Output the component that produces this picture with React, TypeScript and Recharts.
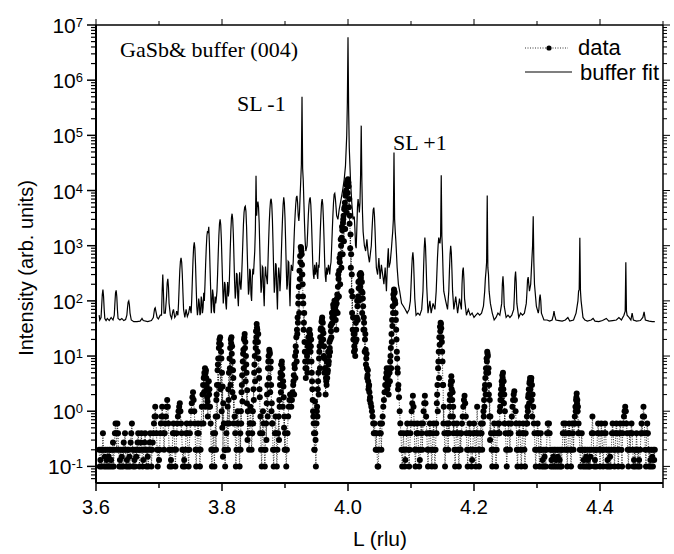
import React from 'react';
import { LineChart, Line, XAxis, YAxis } from 'recharts';

// measured XRD scan, one value per 0.001 rlu channel, split in 0.1 rlu blocks
const data360 = [
  0.2, 0.1, 0.13, 0.2, 0.1, 0.2, 0.4, 0.2, 0.1, 0.15,
  0.2, 0.1, 0.13, 0.2, 0.1, 0.15, 0.2, 0.1, 0.2, 0.13,
  0.1, 0.2, 0.27, 0.1, 0.2, 0.4, 0.6, 0.4, 0.2, 0.6,
  0.4, 0.2, 0.1, 0.13, 0.2, 0.1, 0.15, 0.2, 0.1, 0.27,
  0.2, 0.4, 0.2, 0.1, 0.13, 0.2, 0.1, 0.2, 0.15, 0.1,
  0.27, 0.4, 0.6, 0.2, 0.1, 0.2, 0.13, 0.1, 0.2, 0.15,
  0.2, 0.27, 0.4, 0.2, 0.1, 0.2, 0.27, 0.4, 0.2, 0.1,
  0.13, 0.2, 0.27, 0.4, 0.2, 0.1, 0.2, 0.15, 0.1, 0.2,
  0.27, 0.4, 0.2, 0.1, 0.2, 0.27, 0.4, 0.6, 0.8, 1.2,
  0.8, 0.4, 0.2, 0.1, 0.2,
];
const data370 = [
  0.13, 0.2, 0.4, 0.6, 0.8, 1.2, 0.8, 0.4, 0.2, 0.4,
  0.6, 0.8, 1.2, 1.6, 1.2, 0.6, 0.2, 0.1, 0.2, 0.13,
  0.1, 0.2, 0.4, 0.6, 0.4, 0.2, 0.1, 0.2, 0.4, 0.6,
  0.8, 1.0, 1.2, 1.4, 1.0, 0.6, 0.4, 0.2, 0.1, 0.2,
  0.13, 0.1, 0.2, 0.4, 0.6, 0.4, 0.2, 0.1, 0.2, 0.4,
  0.6, 1.0, 1.4, 1.8, 2.2, 1.6, 1.0, 0.6, 0.2, 0.1,
  0.2, 0.4, 0.6, 0.4, 0.2, 0.1, 0.2, 0.6, 1.2, 2.0,
  3.0, 4.0, 5.0, 6.0, 5.0, 4.0, 2.5, 1.5, 2.5, 3.5,
  2.5, 1.2, 0.6, 0.2, 0.1, 0.2, 0.4, 0.2, 0.1, 0.4,
  0.8, 1.6, 3.0, 5.5, 9.0, 14, 20, 22, 16, 9.0,
];
const data380 = [
  5.0, 2.8, 1.4, 0.6, 0.2, 0.1, 0.2, 0.4, 0.6, 1.2,
  2.5, 5.0, 9.0, 14, 20, 22, 15, 8.0, 4.0, 1.8,
  0.8, 0.4, 0.1, 0.2, 0.6, 1.0, 0.6, 0.2, 0.1, 0.4,
  1.0, 2.2, 4.5, 8.0, 13, 20, 25, 18, 10, 5.0,
  2.4, 1.0, 0.4, 0.2, 0.6, 1.2, 0.6, 0.2, 0.4, 1.0,
  2.5, 5.0, 10, 18, 28, 38, 30, 18, 9.0, 4.0,
  1.8, 0.8, 0.2, 0.1, 0.4, 1.0, 0.6, 0.2, 0.1, 0.2,
  0.6, 1.4, 3.0, 6.0, 10, 13, 11, 6.0, 3.0, 1.4,
  0.6, 0.2, 0.1, 0.2, 0.4, 0.8, 0.4, 0.1, 0.2, 0.4,
  0.8, 1.6, 3.0, 5.0, 7.0, 8.0, 6.0, 3.5, 1.8, 0.8,
];
const data390 = [
  0.4, 0.2, 0.1, 0.2, 0.4, 0.8, 1.2, 1.6, 2.0, 1.6,
  1.2, 1.6, 2.2, 3.0, 4.5, 7.0, 10, 15, 22, 30,
  50, 90, 180, 350, 650, 950, 800, 450, 200, 90,
  40, 18, 8.0, 4.0, 6.0, 10, 15, 22, 28, 30,
  24, 15, 8.0, 3.5, 1.6, 0.8, 0.4, 0.2, 0.4, 0.1,
  0.6, 1.2, 2.5, 5.0, 9.0, 15, 22, 32, 42, 50,
  40, 26, 15, 9.0, 6.0, 4.0, 3.0, 4.0, 5.5, 7.0,
  10, 14, 20, 28, 38, 50, 62, 75, 85, 90,
  80, 65, 90, 130, 180, 250, 350, 500, 700, 1000,
  1400, 1900, 2600, 3500, 4600, 6000, 8000, 10000, 12500, 15000,
];
const data400 = [
  16000, 12000, 7000, 3500, 1600, 700, 300, 120, 50, 25,
  15, 13, 18, 30, 50, 80, 120, 170, 230, 290,
  320, 300, 220, 140, 80, 50, 30, 20, 13, 9.0,
  6.0, 4.5, 3.5, 2.8, 2.2, 1.8, 1.4, 1.2, 1.0, 0.8,
  0.6, 0.4, 0.6, 0.4, 0.2, 0.4, 0.2, 0.1, 0.1, 0.2,
  0.4, 0.6, 0.4, 0.2, 0.6, 0.8, 1.2, 1.6, 2.2, 3.0,
  4.0, 5.0, 4.5, 3.5, 3.0, 3.5, 5.0, 8.0, 14, 25,
  45, 80, 130, 160, 140, 90, 45, 20, 9.0, 5.0,
  3.0, 1.8, 1.0, 0.6, 0.4, 0.2, 0.1, 0.2, 0.4, 0.2,
  0.1, 0.13, 0.2, 0.4, 0.6, 0.4, 0.2, 0.1, 0.2, 0.4,
];
const data410 = [
  0.6, 1.0, 1.4, 1.9, 1.2, 0.6, 0.2, 0.1, 0.2, 0.4,
  0.6, 0.4, 0.2, 0.1, 0.13, 0.2, 0.6, 0.4, 0.2, 0.6,
  1.0, 1.4, 1.9, 1.4, 0.8, 0.4, 0.2, 0.1, 0.2, 0.4,
  0.6, 0.4, 0.2, 0.1, 0.2, 0.4, 0.6, 0.2, 0.1, 0.2,
  0.6, 1.4, 3.0, 6.0, 12, 22, 34, 40, 32, 18,
  8.0, 3.0, 1.2, 0.4, 0.1, 0.2, 0.4, 0.6, 0.4, 0.2,
  0.6, 1.2, 2.0, 3.0, 4.3, 3.5, 2.2, 1.2, 0.6, 0.2,
  0.1, 0.2, 0.4, 0.6, 0.4, 0.2, 0.1, 0.2, 0.4, 0.2,
  0.4, 0.6, 0.8, 1.2, 1.6, 1.9, 1.4, 0.8, 0.4, 0.2,
  0.1, 0.2, 0.4, 0.6, 0.4, 0.2, 0.1, 0.13, 0.2, 0.4,
];
const data420 = [
  0.6, 0.4, 0.2, 0.1, 0.4, 1.2, 0.4, 0.2, 0.1, 0.2,
  0.4, 0.6, 0.4, 0.2, 0.6, 1.0, 1.6, 2.5, 4.0, 6.0,
  9.0, 12, 10, 6.0, 3.0, 1.6, 0.8, 0.4, 0.2, 0.1,
  0.2, 0.4, 0.6, 0.4, 0.2, 0.1, 0.2, 0.4, 0.6, 0.4,
  0.6, 1.0, 1.6, 2.5, 3.5, 4.5, 5.0, 3.5, 2.0, 1.0,
  0.4, 0.2, 0.1, 0.2, 0.4, 0.6, 0.4, 0.2, 0.4, 0.6,
  0.8, 1.2, 1.6, 2.0, 2.3, 1.6, 1.0, 0.6, 0.2, 0.1,
  0.2, 0.4, 0.6, 0.4, 0.2, 0.1, 0.2, 0.4, 0.6, 0.4,
  0.2, 0.1, 0.4, 0.6, 0.8, 1.2, 1.8, 2.5, 3.2, 4.0,
  3.5, 4.0, 3.0, 2.0, 1.2, 0.6, 0.4, 0.2, 0.1, 0.2,
];
const data430 = [
  0.4, 0.6, 0.4, 0.2, 0.1, 0.2, 0.4, 0.2, 0.1, 0.13,
  0.2, 0.1, 0.15, 0.2, 0.1, 0.2, 0.4, 0.6, 0.4, 0.6,
  0.4, 0.2, 0.1, 0.13, 0.2, 0.1, 0.15, 0.2, 0.1, 0.2,
  0.13, 0.1, 0.2, 0.15, 0.1, 0.2, 0.13, 0.1, 0.2, 0.1,
  0.2, 0.4, 0.6, 0.4, 0.2, 0.6, 0.4, 0.2, 0.1, 0.2,
  0.4, 0.6, 0.4, 0.2, 0.1, 0.2, 0.6, 0.4, 0.2, 0.6,
  0.8, 1.2, 1.6, 2.1, 1.6, 1.2, 0.6, 0.4, 0.2, 0.1,
  0.2, 0.4, 0.2, 0.1, 0.13, 0.2, 0.1, 0.2, 0.15, 0.1,
  0.2, 0.13, 0.1, 0.2, 0.1, 0.15, 0.2, 0.4, 0.8, 0.4,
  0.2, 0.1, 0.13, 0.2, 0.1, 0.2, 0.4, 0.6, 0.4, 0.2,
];
const data440 = [
  0.1, 0.2, 0.6, 0.4, 0.2, 0.1, 0.2, 0.4, 0.6, 0.4,
  0.2, 0.1, 0.13, 0.2, 0.1, 0.2, 0.15, 0.1, 0.2, 0.4,
  0.6, 0.4, 0.2, 0.1, 0.2, 0.4, 0.6, 0.4, 0.2, 0.1,
  0.2, 0.4, 0.6, 0.4, 0.2, 0.1, 0.4, 0.6, 0.8, 1.0,
  1.2, 1.0, 0.6, 0.4, 0.2, 0.1, 0.2, 0.4, 0.2, 0.4,
  0.6, 0.4, 0.2, 0.1, 0.13, 0.2, 0.1, 0.2, 0.4, 0.2,
  0.1, 0.2, 0.13, 0.1, 0.2, 0.4, 0.6, 0.4, 0.8, 1.2,
  0.8, 0.4, 0.2, 0.1, 0.4, 0.6, 0.4, 0.2, 0.1, 0.2,
  0.13, 0.1, 0.2, 0.15, 0.1, 0.2, 0.13, 0.2,
];

// extra channels on the half step inside the fringes (dense dot columns)
const fringe377 = [0.6, 2.2, 4.5, 1.2, 5.5, 3.0, 1.8, 0.8, 1.2, 2.0];
const fringe379 = [0.2, 2.0, 0.8, 7.0, 3.0, 17, 9.0, 2.5, 12, 1.0, 0.5, 0.15];
const fringe381 = [0.2, 1.6, 0.6, 6.0, 3.0, 17, 11, 2.2, 5.5, 0.6];
const fringe383 = [0.2, 0.6, 3.0, 1.5, 11, 6.0, 22, 14, 3.5, 7.0, 1.4, 0.3];
const fringe385 = [0.6, 1.6, 7.0, 3.5, 14, 22, 33, 12, 25, 5.5, 2.5, 0.4];
const fringe387 = [0.3, 2.0, 0.8, 8.0, 4.0, 12, 2.2, 8.0, 1.0, 0.6];
const fringe389 = [0.3, 1.2, 4.0, 2.2, 7.0, 4.5, 1.2, 2.8, 0.5, 0.2];
const fringeSLm = [
  3.5, 2.0, 6.0, 4.0, 12, 8.0, 25, 40, 120, 60,
  250, 500, 900, 700, 300, 120, 30, 60, 12, 6.0,
];
const fringe394 = [5.0, 12, 8.0, 18, 25, 12, 20, 5.0, 2.5, 1.0, 0.6, 0.2, 1.5, 0.3];
const fringe396 = [1.0, 0.8, 3.5, 2.0, 12, 6.0, 30, 18, 45, 30, 20, 10, 5.0, 6.0, 2.0, 3.5, 8.0, 5.0, 12];
const fringeCore = [
  8.0, 18, 12, 35, 22, 60, 40, 85, 55, 100,
  70, 45, 30, 110, 60, 300, 120, 600, 200, 1300,
  400, 2200, 700, 3000, 1200, 5000, 2000, 9000, 4000, 14000,
  9000, 14000, 5000, 2500, 900, 400, 150, 60, 30, 20,
  12, 25, 10, 40, 20, 100, 45, 220, 100, 300,
  180, 260, 150, 60, 110, 30, 40, 12, 25, 7.0,
  11, 4.0, 5.5, 2.5, 3.0, 1.6,
];
const fringeSLp = [3.0, 6.0, 2.5, 4.5, 2.0, 6.0, 3.5, 10, 6.0, 18, 35, 60, 110, 150, 100, 60, 30, 12, 6.0, 2.5];
const fringe414 = [0.4, 2.0, 1.0, 8.0, 4.0, 16, 28, 38, 22, 12, 3.0, 0.6];
const fringe416 = [0.4, 1.6, 0.8, 3.5, 2.5, 1.6, 0.8, 0.4];
const fringe422 = [0.8, 1.2, 3.0, 2.0, 5.0, 8.0, 11, 5.0, 2.0, 0.8, 0.3];
const fringe424 = [0.4, 1.2, 2.0, 1.6, 3.0, 4.0, 2.5, 1.4, 0.6];
const fringe429 = [0.6, 1.0, 2.0, 1.4, 3.5, 2.5, 3.6, 1.6, 0.8];
const fringe436 = [0.6, 1.0, 1.8, 1.4, 1.0, 0.4];

// [start L, values] – every block steps 0.001 rlu
const blocks: [number, number[]][] = [
  [3.605, data360], [3.7, data370], [3.8, data380], [3.9, data390], [4.0, data400],
  [4.1, data410], [4.2, data420], [4.3, data430], [4.4, data440],
  [3.7705, fringe377], [3.7905, fringe379], [3.8095, fringe381], [3.8295, fringe383],
  [3.8495, fringe385], [3.8705, fringe387], [3.8905, fringe389], [3.9135, fringeSLm],
  [3.9355, fringe394], [3.9505, fringe396], [3.9695, fringeCore], [4.0605, fringeSLp],
  [4.1405, fringe414], [4.1605, fringe416], [4.2155, fringe422], [4.2405, fringe424],
  [4.2845, fringe429], [4.3605, fringe436],
];
const STEP = 0.001;

// buffer fit curve, [L, intensity] vertices
const fitLow: [number, number][] = [
  [3.605, 55], [3.606, 45], [3.608, 50], [3.609, 80], [3.61, 130], [3.611, 160], [3.612, 120],
  [3.613, 70], [3.614, 48], [3.616, 44], [3.618, 48], [3.621, 44], [3.624, 50], [3.627, 45],
  [3.629, 55], [3.63, 90], [3.631, 140], [3.632, 155], [3.633, 120], [3.634, 70], [3.635, 48],
  [3.638, 45], [3.641, 48], [3.644, 44], [3.647, 46], [3.649, 55], [3.65, 75], [3.651, 95],
  [3.652, 100], [3.653, 85], [3.654, 60], [3.656, 45], [3.66, 42], [3.665, 42], [3.67, 43],
  [3.672, 46], [3.673, 48], [3.675, 44], [3.682, 42], [3.688, 44], [3.691, 50], [3.692, 60],
  [3.693, 72], [3.694, 75], [3.695, 65], [3.697, 50], [3.699, 47], [3.702, 55], [3.704, 55],
  [3.705, 150], [3.706, 300], [3.707, 150], [3.708, 60], [3.71, 60], [3.712, 120], [3.713, 210],
  [3.714, 250], [3.715, 180], [3.716, 90], [3.718, 55], [3.72, 48], [3.722, 65], [3.723, 70],
  [3.725, 50], [3.727, 55], [3.728, 65], [3.73, 55], [3.731, 90], [3.732, 180], [3.733, 350],
  [3.734, 520], [3.735, 600], [3.736, 500], [3.737, 300], [3.738, 140], [3.739, 70], [3.741, 50],
  [3.743, 70], [3.745, 52], [3.747, 60], [3.749, 80], [3.751, 60],
];
const fitMid: [number, number][] = [
  [3.752, 110], [3.753, 250], [3.754, 550], [3.755, 950], [3.756, 1150], [3.757, 900],
  [3.758, 450], [3.759, 180], [3.76, 80], [3.761, 55], [3.762, 70], [3.763, 110], [3.764, 90],
  [3.765, 55], [3.766, 60], [3.767, 120], [3.768, 100], [3.769, 60], [3.77, 75], [3.771, 140],
  [3.772, 100], [3.773, 200], [3.774, 450], [3.775, 900], [3.776, 1500],
  [3.777, 1850], [3.778, 1700], [3.779, 2200], [3.78, 1100], [3.781, 400], [3.782, 160],
  [3.783, 60], [3.784, 90], [3.785, 160], [3.786, 130], [3.787, 65], [3.788, 60], [3.789, 120],
  [3.79, 90], [3.791, 110], [3.792, 150], [3.793, 300], [3.794, 700],
  [3.795, 1500], [3.796, 2500], [3.797, 3000], [3.798, 2400], [3.799, 1300], [3.8, 500],
  [3.801, 200], [3.802, 90], [3.803, 130], [3.804, 220], [3.805, 200], [3.806, 90], [3.807, 70],
  [3.808, 150], [3.809, 220], [3.81, 120], [3.811, 150], [3.812, 300],
  [3.813, 800], [3.814, 1800], [3.815, 3200], [3.816, 3800], [3.817, 3000], [3.818, 1600],
  [3.819, 600], [3.82, 220], [3.821, 110], [3.822, 150], [3.823, 320], [3.824, 300], [3.825, 120],
  [3.826, 80], [3.827, 200], [3.828, 330], [3.829, 200], [3.83, 160],
  [3.831, 250], [3.832, 500], [3.833, 1100], [3.834, 2400], [3.835, 4000], [3.836, 5000],
  [3.837, 5200], [3.838, 4200], [3.839, 2200], [3.84, 800], [3.841, 300], [3.842, 130],
  [3.843, 160], [3.844, 380], [3.845, 350], [3.846, 130], [3.847, 100], [3.848, 250],
  [3.849, 380], [3.85, 300], [3.851, 500], [3.852, 800], [3.853, 2000],
  [3.854, 18600], [3.855, 3500], [3.856, 5500], [3.857, 6300], [3.858, 5000], [3.859, 2600],
  [3.86, 900], [3.861, 300], [3.862, 140], [3.863, 180], [3.864, 420], [3.865, 400], [3.866, 150],
  [3.867, 80], [3.868, 250], [3.869, 420], [3.87, 300], [3.871, 250],
  [3.872, 200], [3.873, 500], [3.874, 1200], [3.875, 2600], [3.876, 4500], [3.877, 6500],
  [3.878, 7100], [3.879, 5600], [3.88, 3000], [3.881, 1100], [3.882, 350], [3.883, 140],
  [3.884, 200], [3.885, 480], [3.886, 450], [3.887, 150], [3.888, 70], [3.889, 250],
  [3.89, 400], [3.891, 300], [3.892, 150], [3.893, 250], [3.894, 600], [3.895, 1400],
  [3.896, 3000], [3.897, 5500], [3.898, 7500], [3.899, 6000], [3.9, 3200], [3.901, 1200],
  [3.902, 400], [3.903, 160], [3.904, 200], [3.905, 520], [3.906, 500], [3.907, 160],
  [3.908, 80], [3.909, 280], [3.91, 450], [3.911, 380], [3.912, 350], [3.913, 500],
  [3.914, 1000], [3.915, 2000], [3.916, 3500], [3.917, 5500], [3.918, 7500], [3.919, 8000],
  [3.92, 6000], [3.921, 3500], [3.922, 2800], [3.923, 4000], [3.924, 8000], [3.925, 15000],
  [3.926, 30000], [3.927, 500000], [3.928, 25000], [3.929, 15000], [3.93, 6000], [3.931, 2500],
  [3.932, 1200], [3.933, 800],
];
const fitCore: [number, number][] = [
  [3.935, 1000], [3.936, 1800], [3.937, 3500], [3.938, 5500], [3.939, 7000], [3.94, 7500],
  [3.941, 5500], [3.942, 2800], [3.943, 1200], [3.944, 500], [3.945, 300], [3.946, 250],
  [3.947, 450], [3.948, 300], [3.949, 350], [3.95, 500], [3.951, 300], [3.952, 250],
  [3.953, 450], [3.954, 400], [3.955, 800], [3.956, 1800], [3.957, 3500],
  [3.958, 6000], [3.959, 7000], [3.96, 5500], [3.961, 3000], [3.962, 1300], [3.963, 500],
  [3.964, 280], [3.965, 220], [3.966, 400], [3.967, 300], [3.968, 350], [3.969, 450],
  [3.97, 380], [3.971, 300], [3.972, 420], [3.973, 500], [3.974, 900],
  [3.975, 1800], [3.976, 3500], [3.977, 6000], [3.978, 8500], [3.979, 8900], [3.98, 7000],
  [3.981, 5000], [3.982, 3500], [3.984, 3000], [3.986, 4500], [3.988, 6000], [3.99, 8000],
  [3.992, 11000], [3.994, 16000], [3.996, 28000], [3.998, 100000], [3.999, 400000],
  [4.0, 6000000], [4.001, 300000], [4.002, 60000], [4.004, 15000], [4.006, 6000], [4.008, 3000],
  [4.009, 3300], [4.01, 3300], [4.011, 2000], [4.012, 1000], [4.013, 900], [4.014, 2000],
  [4.015, 5000], [4.016, 7000], [4.017, 5500], [4.018, 4000], [4.019, 6000], [4.02, 20000],
  [4.021, 150000], [4.022, 15000], [4.023, 4000], [4.024, 1800], [4.026, 1000], [4.028, 800],
  [4.03, 1300], [4.032, 700], [4.034, 500], [4.036, 800],
];
const fitSide: [number, number][] = [
  [4.037, 1000], [4.038, 1800], [4.039, 3000], [4.04, 4500], [4.041, 4900], [4.042, 3500],
  [4.043, 1800], [4.044, 800], [4.045, 400], [4.047, 300], [4.049, 600], [4.051, 250],
  [4.053, 450], [4.055, 300], [4.057, 200], [4.059, 400], [4.061, 150], [4.063, 600],
  [4.064, 900], [4.065, 400], [4.067, 500], [4.069, 900], [4.07, 1300], [4.071, 1800],
  [4.072, 3000], [4.073, 49000], [4.074, 3000], [4.075, 1800], [4.076, 1200], [4.077, 700],
  [4.078, 400], [4.08, 200], [4.082, 150], [4.085, 90], [4.088, 80], [4.091, 70], [4.094, 60],
  [4.097, 70], [4.099, 100], [4.1, 180], [4.101, 350], [4.102, 600], [4.103, 760], [4.104, 550],
  [4.105, 250], [4.106, 110], [4.108, 55], [4.111, 60], [4.114, 55], [4.117, 70], [4.119, 150],
  [4.12, 400], [4.121, 900], [4.122, 1400], [4.123, 1000], [4.124, 450], [4.125, 180],
  [4.127, 60], [4.13, 100], [4.132, 60], [4.135, 90], [4.138, 70], [4.14, 150], [4.141, 300],
  [4.142, 600], [4.143, 1000], [4.144, 1400], [4.145, 1200], [4.146, 1100], [4.147, 1500],
  [4.148, 19000], [4.149, 1500], [4.15, 800], [4.151, 300], [4.152, 150], [4.155, 100],
  [4.158, 70], [4.16, 150], [4.161, 350], [4.162, 700], [4.163, 1000], [4.164, 750],
  [4.165, 350], [4.166, 150], [4.168, 70], [4.171, 120], [4.174, 60], [4.177, 110], [4.18, 70],
  [4.181, 200], [4.182, 350], [4.183, 400], [4.184, 250], [4.185, 110], [4.188, 55],
];
const fitHigh: [number, number][] = [
  [4.191, 70], [4.194, 55], [4.197, 60], [4.2, 50], [4.203, 55], [4.206, 60], [4.209, 55],
  [4.212, 60], [4.215, 80], [4.217, 150], [4.218, 250], [4.219, 340], [4.22, 500], [4.221, 8100],
  [4.222, 400], [4.223, 300], [4.224, 150], [4.226, 90], [4.229, 60], [4.232, 45], [4.235, 50],
  [4.238, 60], [4.241, 55], [4.244, 90], [4.245, 200], [4.246, 280], [4.247, 180], [4.248, 80],
  [4.251, 50], [4.254, 55], [4.257, 50], [4.26, 55], [4.263, 70], [4.264, 120], [4.265, 260],
  [4.266, 340], [4.267, 220], [4.268, 90], [4.271, 50], [4.274, 60], [4.277, 55], [4.28, 60],
  [4.283, 90], [4.284, 140], [4.285, 240], [4.286, 270], [4.287, 200], [4.288, 150], [4.29, 200],
  [4.291, 350], [4.292, 600], [4.293, 1000], [4.294, 3400], [4.295, 500], [4.296, 200],
  [4.299, 80], [4.302, 60], [4.303, 70], [4.304, 110], [4.305, 130], [4.306, 100], [4.307, 60],
  [4.311, 45], [4.316, 45], [4.32, 43], [4.324, 45], [4.326, 55], [4.327, 65], [4.328, 55],
  [4.33, 45], [4.335, 44], [4.34, 43], [4.345, 45], [4.349, 50], [4.352, 43], [4.358, 45],
  [4.362, 60], [4.365, 100], [4.366, 150], [4.367, 160], [4.368, 1400], [4.369, 150], [4.37, 100],
  [4.373, 50], [4.376, 45], [4.38, 43], [4.386, 45], [4.389, 48], [4.392, 43], [4.398, 42],
  [4.404, 44], [4.41, 48], [4.414, 43], [4.42, 44], [4.426, 45], [4.43, 50], [4.434, 45],
  [4.438, 55], [4.44, 65], [4.441, 500], [4.442, 65], [4.443, 55], [4.446, 50], [4.449, 45],
  [4.451, 60], [4.453, 45], [4.458, 43], [4.464, 44], [4.468, 50], [4.47, 63], [4.472, 45],
  [4.478, 43], [4.483, 42], [4.487, 42],
];

const xTicks = [3.6, 3.7, 3.8, 3.9, 4.0, 4.1, 4.2, 4.3, 4.4, 4.5];
const xLabels = [3.6, 3.8, 4.0, 4.2, 4.4];
const yDecades = [-1, 0, 1, 2, 3, 4, 5, 6, 7];

const yMinor: number[] = [];
for (let e = -2; e <= 6; e++) {
  for (let m = 2; m <= 9; m++) {
    const v = m * Math.pow(10, e);
    if (v > 0.05 && v < 1e7) yMinor.push(v);
  }
}
const yTicks = [...yDecades.map((e) => Math.pow(10, e)), ...yMinor].sort((a, b) => a - b);

const dataPoints = blocks
  .flatMap(([start, vals]) => vals.map((v, i) => ({ x: +(start + i * STEP).toFixed(4), y: v })))
  .sort((a, b) => a.x - b.x);
const fitPoints = [...fitLow, ...fitMid, ...fitCore, ...fitSide, ...fitHigh].map(([x, y]) => ({ x, y }));

const SANS = '"Liberation Sans", Arial, sans-serif';
const SERIF = '"Liberation Serif", "Times New Roman", serif';

const isDecade = (v: number) => Math.abs(Math.log10(v) - Math.round(Math.log10(v))) < 1e-6;
const isLabelled = (v: number) => xLabels.some((l) => Math.abs(l - v) < 1e-6);

function LeftTick({ x, y, payload }: any) {
  const v = payload.value;
  const major = isDecade(v);
  return (
    <g>
      <line x1={x - (major ? 9 : 5)} x2={x} y1={y} y2={y} stroke="#000" strokeWidth={major ? 1.5 : 1.2} />
      {major && (
        <text x={x - 13} y={y + 8} textAnchor="end" fontFamily={SANS} fontSize={21} fill="#000">
          10
          <tspan dy={-6} fontSize={13}>
            {Math.round(Math.log10(v))}
          </tspan>
        </text>
      )}
    </g>
  );
}

function RightTick({ x, y, payload }: any) {
  const major = isDecade(payload.value);
  return <line x1={x} x2={x + (major ? 7 : 4)} y1={y} y2={y} stroke="#000" strokeWidth={1} />;
}

function BottomTick({ x, y, payload }: any) {
  const v = payload.value;
  const lab = isLabelled(v);
  return (
    <g>
      <line x1={x} x2={x} y1={y} y2={y + (lab ? 8 : 5)} stroke="#000" strokeWidth={1.5} />
      {lab && (
        <text x={x} y={y + 31} textAnchor="middle" fontFamily={SANS} fontSize={20} fill="#000">
          {v.toFixed(1)}
        </text>
      )}
    </g>
  );
}

function TopTick({ x, y, payload }: any) {
  const lab = isLabelled(payload.value);
  return <line x1={x} x2={x} y1={y - (lab ? 6 : 4)} y2={y} stroke="#000" strokeWidth={1} />;
}

export default function App() {
  return (
    <div style={{ position: 'absolute', left: 0, top: 0, width: 674, height: 554, background: '#fff' }}>
      <LineChart width={674} height={554} margin={{ top: 0, right: 0, bottom: 0, left: 0 }}>
        <XAxis
          xAxisId="b"
          dataKey="x"
          type="number"
          domain={[3.6, 4.5]}
          ticks={xTicks}
          interval={0}
          height={71}
          tickSize={0}
          tickMargin={0}
          tickLine={false}
          tick={<BottomTick />}
          axisLine={{ stroke: '#000', strokeWidth: 2 }}
          allowDataOverflow
        />
        <XAxis
          xAxisId="t"
          orientation="top"
          dataKey="x"
          type="number"
          domain={[3.6, 4.5]}
          ticks={xTicks}
          interval={0}
          height={25}
          tickSize={0}
          tickMargin={0}
          tickLine={false}
          tick={<TopTick />}
          axisLine={{ stroke: '#000', strokeWidth: 1.5 }}
          allowDataOverflow
        />
        <YAxis
          yAxisId="l"
          type="number"
          scale="log"
          domain={[0.05, 1e7]}
          ticks={yTicks}
          interval={0}
          width={96}
          tickSize={0}
          tickMargin={0}
          tickLine={false}
          tick={<LeftTick />}
          axisLine={{ stroke: '#000', strokeWidth: 2 }}
          allowDataOverflow
        />
        <YAxis
          yAxisId="r"
          orientation="right"
          type="number"
          scale="log"
          domain={[0.05, 1e7]}
          ticks={yTicks}
          interval={0}
          width={11}
          tickSize={0}
          tickMargin={0}
          tickLine={false}
          tick={<RightTick />}
          axisLine={{ stroke: '#000', strokeWidth: 1.5 }}
          allowDataOverflow
        />
        <Line
          xAxisId="b"
          yAxisId="l"
          data={dataPoints}
          dataKey="y"
          type="linear"
          stroke="#000"
          strokeWidth={0.8}
          strokeDasharray="1 1.5"
          dot={{ r: 3, fill: '#000', stroke: 'none' }}
          isAnimationActive={false}
        />
        <Line
          xAxisId="b"
          yAxisId="l"
          data={fitPoints}
          dataKey="y"
          type="linear"
          stroke="#000"
          strokeWidth={1.2}
          dot={false}
          isAnimationActive={false}
        />
        <Line
          xAxisId="t"
          yAxisId="r"
          data={fitPoints}
          dataKey="y"
          stroke="none"
          dot={false}
          isAnimationActive={false}
        />
      </LineChart>
      <svg
        width={674}
        height={554}
        style={{ position: 'absolute', left: 0, top: 0, pointerEvents: 'none' }}
      >
        <text x={120} y={57} fontFamily={SERIF} fontSize={22} fill="#000">
          GaSb&amp; buffer (004)
        </text>
        <text x={237} y={111} fontFamily={SERIF} fontSize={22} fill="#000">
          SL -1
        </text>
        <text x={393} y={150} fontFamily={SERIF} fontSize={22} fill="#000">
          SL +1
        </text>
        <line x1={525} x2={568} y1={48} y2={48} stroke="#000" strokeWidth={0.8} strokeDasharray="1 1.5" />
        <circle cx={549} cy={48} r={2.6} fill="#000" />
        <text x={578} y={55} fontFamily={SANS} fontSize={22} fill="#000">
          data
        </text>
        <line x1={525} x2={572} y1={72} y2={72} stroke="#000" strokeWidth={1.2} />
        <text x={580} y={80} fontFamily={SANS} fontSize={22} fill="#000">
          buffer fit
        </text>
        <text
          transform="translate(26,268) rotate(-90)"
          textAnchor="middle"
          dominantBaseline="central"
          fontFamily={SANS}
          fontSize={20}
          fill="#000"
        >
          Intensity (arb. units)
        </text>
        <text x={380} y={546} textAnchor="middle" fontFamily={SANS} fontSize={21} fill="#000">
          L (rlu)
        </text>
      </svg>
    </div>
  );
}
